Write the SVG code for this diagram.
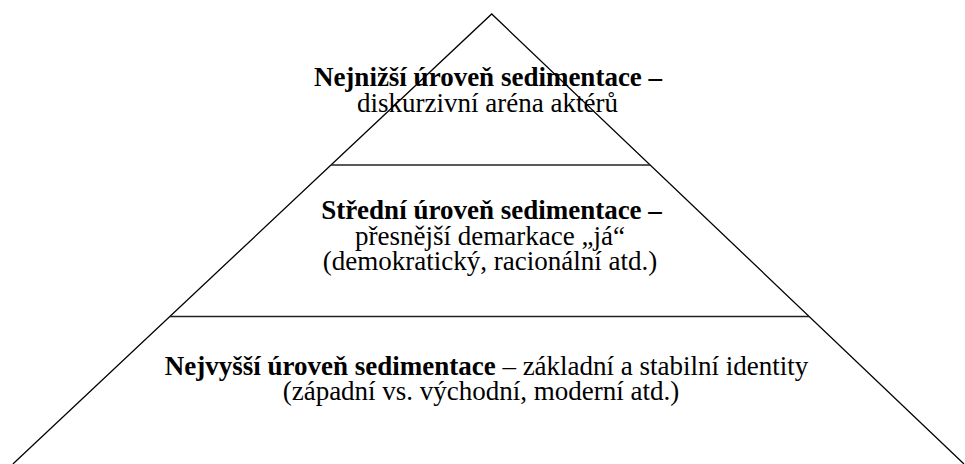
<svg xmlns="http://www.w3.org/2000/svg" width="965" height="464" viewBox="0 0 965 464">
<style>
.edge{stroke:#000;stroke-width:1.3;fill:none}
.div{stroke:#222;stroke-width:1.6;fill:none}
text{font-family:"Liberation Serif","Times New Roman",serif;font-size:27px;fill:#000;text-anchor:middle}
.b{font-weight:bold}
</style>
<rect width="965" height="464" fill="#fff"/>
<g id="connectors">
<polyline class="edge" points="12.9,464 491.7,14 964,464"/>
<line class="div" x1="331" y1="165" x2="650" y2="165"/>
<line class="div" x1="170" y1="316.5" x2="809" y2="316.5"/>
</g>
<g id="tier-top">
<text class="b" x="488" y="86">Nejnižší úroveň sedimentace –</text>
<text x="487.5" y="111.5">diskurzivní aréna aktérů</text>
</g>
<g id="tier-middle">
<text class="b" x="491.5" y="219">Střední úroveň sedimentace –</text>
<text x="490" y="245">přesnější demarkace „já“</text>
<text x="490" y="270">(demokratický, racionální atd.)</text>
</g>
<g id="tier-bottom">
<text x="486.5" y="375"><tspan class="b">Nejvyšší úroveň sedimentace</tspan> – základní a stabilní identity</text>
<text x="481" y="400">(západní vs. východní, moderní atd.)</text>
</g>
</svg>
